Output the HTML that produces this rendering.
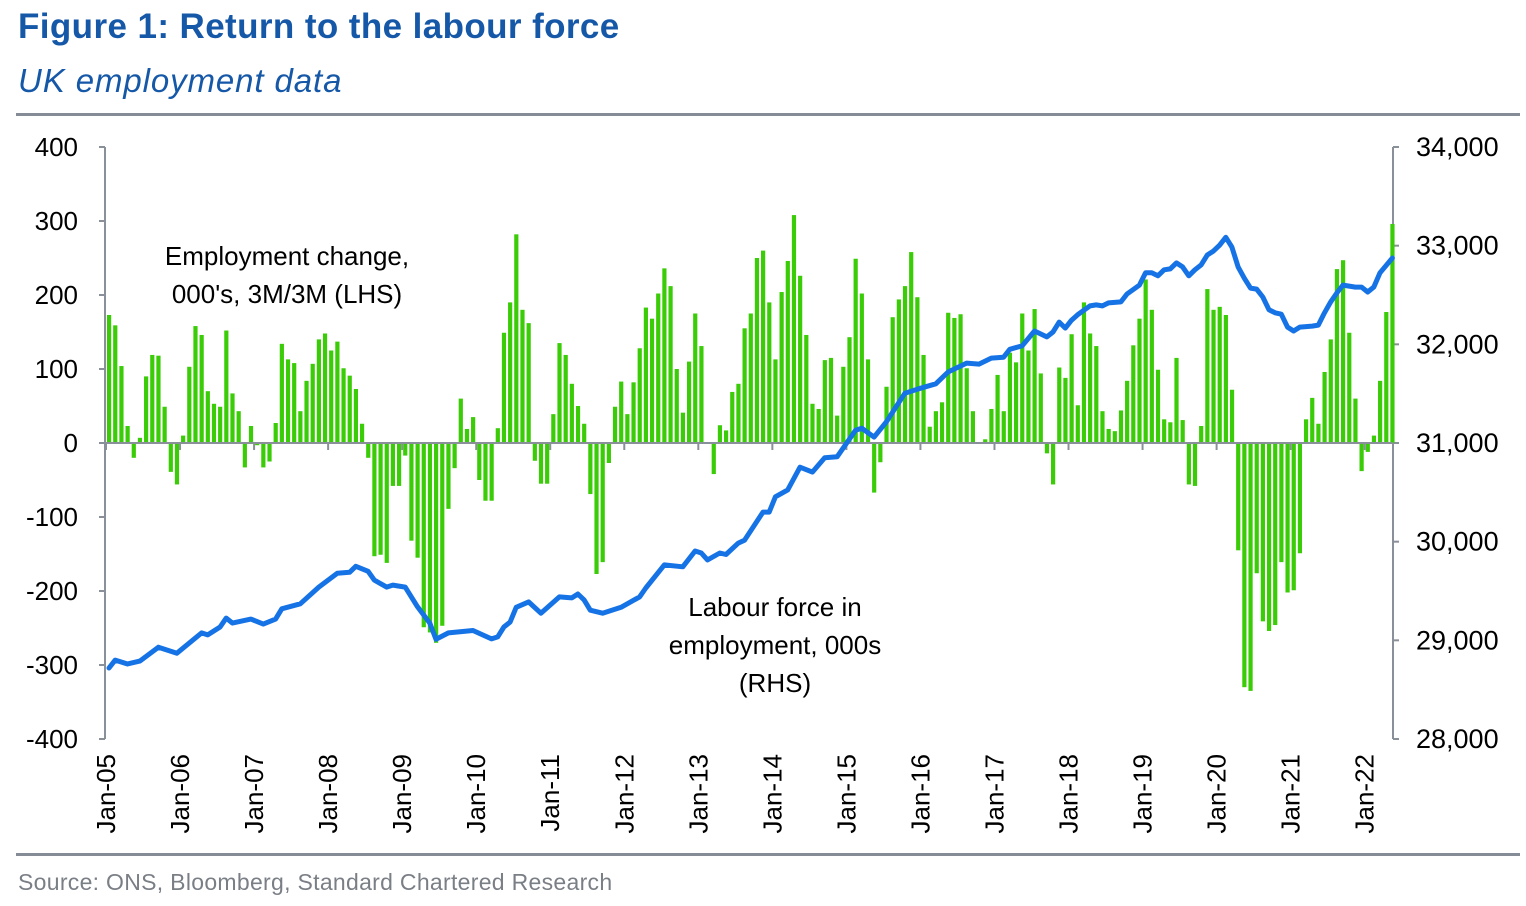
<!DOCTYPE html>
<html><head><meta charset="utf-8">
<style>
html,body{margin:0;padding:0;background:#fff;}
body{width:1526px;height:906px;position:relative;overflow:hidden;font-family:"Liberation Sans",Arial,sans-serif;}
#title{position:absolute;left:18px;top:7px;font-size:35px;font-weight:bold;color:#1658a8;letter-spacing:0.4px;}
#subtitle{position:absolute;left:18px;top:62px;font-size:33px;font-style:italic;color:#1658a8;letter-spacing:0.9px;}
.rule{position:absolute;left:16px;width:1504px;height:3px;background:#858c96;}
#source{position:absolute;left:18px;top:869px;font-size:23px;color:#7a7f86;letter-spacing:0.3px;}
svg{position:absolute;left:0;top:0;}
svg text{font-family:"Liberation Sans",Arial,sans-serif;}
</style></head><body>
<div id="title">Figure 1: Return to the labour force</div>
<div id="subtitle">UK employment data</div>
<div class="rule" style="top:113px"></div>
<div class="rule" style="top:853px"></div>
<div id="source">Source: ONS, Bloomberg, Standard Chartered Research</div>
<svg id="chart" width="1526" height="906"></svg>
<script>
const yearLabels = ["Jan-05","Jan-06","Jan-07","Jan-08","Jan-09","Jan-10","Jan-11","Jan-12","Jan-13","Jan-14","Jan-15","Jan-16","Jan-17","Jan-18","Jan-19","Jan-20","Jan-21","Jan-22"];
const leftTicks = [400,300,200,100,0,-100,-200,-300,-400];
const rightTicks = [34000,33000,32000,31000,30000,29000,28000];
const rightTickLabels = ["34,000","33,000","32,000","31,000","30,000","29,000","28,000"];
const empChange = [
173,159,104,23,-20,7,90,119,118,49,-39,-56,
10,103,158,146,70,53,49,152,67,43,-33,23,
-3,-33,-25,27,134,113,108,43,84,107,140,148,
125,137,101,91,73,26,-20,-153,-151,-162,-58,-58,
-17,-132,-155,-249,-256,-270,-247,-89,-34,60,19,35,
-50,-78,-78,20,149,190,282,180,162,-24,-55,-55,
39,135,119,80,50,26,-69,-177,-161,-27,49,83,
39,82,128,183,168,202,236,212,100,41,110,175,
131,-1,-42,24,17,69,80,155,175,250,260,190,
113,204,246,308,226,146,53,46,112,115,37,103,
143,249,202,113,-67,-26,76,170,194,212,258,197,
119,22,43,55,176,169,174,101,43,-1,5,46,
92,43,122,109,175,125,181,94,-14,-56,102,88,
147,51,190,148,131,43,19,16,44,84,132,168,
221,180,99,32,28,115,31,-56,-58,23,208,180,
184,173,72,-145,-330,-335,-176,-241,-254,-246,-161,-202,
-199,-149,32,61,26,96,140,235,247,149,60,-38,
-12,10,84,177,296];
const lfMonths = [0,1,3,5,8,11,15,16,18,19,20,23,25,27,28,31,34,37,39,40,42,43,45,46,48,50,52,53,55,59,62,63,64,65,66,68,70,73,75,76,77,78,80,83,86,87,90,93,95,96,97,99,100,102,103,106,107,108,110,112,114,116,118,121,122,124,126,129,131,134,136,139,141,143,145,146,148,150,152,153,154,155,156,157,159,160,161,162,164,165,167,168,169,170,171,172,173,174,175,176,177,178,179,180,181,182,183,184,185,186,187,188,189,190,191,192,193,195,196,197,198,199,200,202,203,204,205,206,208];
const lfValues = [28720,28800,28760,28790,28930,28870,29075,29055,29135,29225,29175,29215,29165,29215,29320,29370,29540,29680,29690,29750,29700,29610,29540,29560,29540,29340,29175,29010,29075,29100,29015,29035,29135,29185,29335,29390,29275,29440,29430,29470,29410,29305,29275,29335,29440,29530,29765,29745,29905,29885,29815,29885,29870,29985,30015,30300,30300,30455,30525,30755,30705,30850,30860,31130,31150,31060,31215,31505,31545,31600,31720,31810,31800,31860,31870,31950,31985,32135,32075,32125,32225,32165,32245,32300,32390,32400,32390,32420,32430,32510,32600,32725,32725,32695,32755,32765,32825,32785,32695,32755,32805,32905,32945,33005,33085,32985,32785,32670,32570,32560,32480,32350,32320,32305,32175,32135,32175,32185,32195,32320,32430,32520,32600,32580,32580,32530,32580,32725,32875];

const NS="http://www.w3.org/2000/svg";
const svg=document.getElementById('chart');
const X0=106, MONTH=6.17, TOP=147, BOT=739;
const xM = m => X0 + 3 + m*MONTH;
const yL = v => TOP + (400 - v)/800*(BOT-TOP);
const yR = v => TOP + (34000 - v)/6000*(BOT-TOP);
function mk(tag, attrs, parent){const e=document.createElementNS(NS,tag);for(const k in attrs)e.setAttribute(k,attrs[k]);(parent||svg).appendChild(e);return e;}

const axisCol="#8a9099";
const la=mk('line',{x1:105,y1:TOP,x2:105,y2:BOT,stroke:axisCol,'stroke-width':2});


leftTicks.forEach(v=>{
  const t=mk('line',{x1:99,x2:105,y1:yL(v),y2:yL(v),stroke:axisCol,'stroke-width':2});
  
  
  const tx=mk('text',{x:78,y:yL(v)+9,'text-anchor':'end','font-size':26,fill:'#000'});
  tx.textContent=v;
  
  
});
const ra=mk('line',{x1:1393,y1:TOP,x2:1393,y2:BOT,stroke:axisCol,'stroke-width':2});


rightTicks.forEach((v,i)=>{
  const t=mk('line',{x1:1393,x2:1399,y1:yR(v),y2:yR(v),stroke:axisCol,'stroke-width':2});
  
  
  const tx=mk('text',{x:1416,y:yR(v)+9,'font-size':27,fill:'#000'});
  tx.textContent=rightTickLabels[i];
  
  
});
empChange.forEach((v,i)=>{
  const y0=yL(0), y1=yL(v);
  const b=mk('rect',{x:xM(i)-2,y:Math.min(y0,y1),width:4.2,height:Math.max(0.6,Math.abs(y1-y0)),fill:'#3acc06'});
  
  
});
const z=mk('line',{x1:105,x2:1393,y1:yL(0),y2:yL(0),stroke:axisCol,'stroke-width':2});


yearLabels.forEach((lab,i)=>{
  const x=X0+i*12*MONTH;
  const t=mk('line',{x1:x,x2:x,y1:yL(0),y2:yL(0)+7,stroke:axisCol,'stroke-width':2});
  
  
  const tx=mk('text',{x:0,y:0,'font-size':26,'text-anchor':'end',fill:'#000',transform:`translate(${x+9},754) rotate(-90)`});
  tx.textContent=lab;
  
  
});
const pts=lfMonths.map((m,i)=>xM(m).toFixed(1)+','+yR(lfValues[i]).toFixed(1)).join(' ');
const pl=mk('polyline',{points:pts,fill:'none',stroke:'#1673e6','stroke-width':5,'stroke-linejoin':'round','stroke-linecap':'round'});


function ann(lines,cx,y0,name){
  lines.forEach((s,i)=>{
    const t=mk('text',{x:cx,y:y0+i*38,'text-anchor':'middle','font-size':26,fill:'#000'});
    t.textContent=s;
    
    
  });
}
ann(["Employment change,","000's, 3M/3M (LHS)"],287,265,'employment-change-annotation');
ann(["Labour force in","employment, 000s","(RHS)"],775,616,'labour-force-annotation');
</script>
</body></html>
